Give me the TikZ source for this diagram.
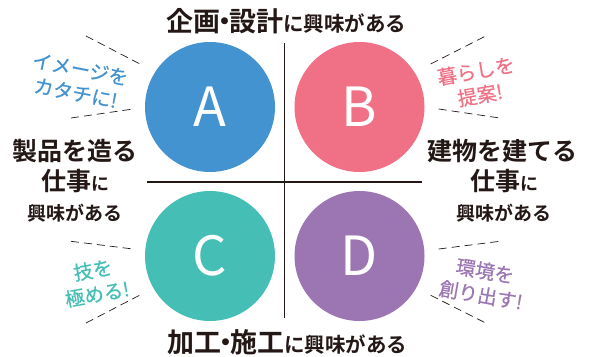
\documentclass[tikz,border=0pt]{standalone}
\usepackage{fontspec}
\setmainfont{Noto Sans CJK JP}[BoldFont={Noto Sans CJK JP Bold}]
\newfontfamily\jpmed{Noto Sans CJK JP}[FakeBold=0.6]
\definecolor{cA}{HTML}{4393D0}
\definecolor{cB}{HTML}{F07185}
\definecolor{cC}{HTML}{45BFB5}
\definecolor{cD}{HTML}{9B76B2}
\definecolor{ink}{HTML}{231815}
\tikzset{
  disc/.style={circle,inner sep=0pt,minimum size=130pt,text=white,font=\fontsize{54}{54}\selectfont},
  bigtxt/.style={inner sep=0pt,text=ink,font=\bfseries\fontsize{25}{25}\selectfont},
  midtxt/.style={inner sep=0pt,text=ink,font=\bfseries\fontsize{19}{19}\selectfont},
  capt/.style={inner sep=0pt,align=center,font=\jpmed\fontsize{19.5}{24.5}\selectfont},
  sep/.style={draw=ink,line width=1.2pt},
  guide/.style={draw=ink,line width=0.7pt,dash pattern=on 8pt off 5pt}
}
\newcommand{\nakaguro}{\kern-9pt・\kern-9pt}
\begin{document}
\begin{tikzpicture}[x=1pt,y=-1pt]
\useasboundingbox (0,0) rectangle (593,356);
% separators
\coordinate (vt) at (284.5,43);
\coordinate (vb) at (284.5,318);
\coordinate (hl) at (147,182);
\coordinate (hr) at (422,182);
\draw[sep] (vt) -- (vb);
\draw[sep] (hl) -- (hr);
% circles
\node[disc,fill=cA] (A) at (210,107) {A};
\node[disc,fill=cB] (B) at (359.5,107) {B};
\node[disc,fill=cC] (C) at (210,256) {C};
\node[disc,fill=cD] (D) at (359.5,256) {D};
% titles
\node[inner sep=0pt,text=ink] (top) at (286,21) {{\bfseries\fontsize{27}{27}\selectfont 企画\nakaguro 設計}{\bfseries\fontsize{20.5}{20.5}\selectfont に興味がある}};
\node[inner sep=0pt,text=ink] (bot) at (287,342) {{\bfseries\fontsize{27}{27}\selectfont 加工\nakaguro 施工}{\bfseries\fontsize{20.5}{20.5}\selectfont に興味がある}};
% left
\node[bigtxt] (l1) at (75,151) {製品を造る};
\node[bigtxt] (l2) at (75,181) {仕事{\fontsize{18}{18}\selectfont に}};
\node[midtxt] (l3) at (75,213) {興味がある};
% right
\node[bigtxt] (r1) at (502.5,151) {建物を建てる};
\node[bigtxt] (r2) at (504,181) {仕事{\fontsize{18}{18}\selectfont に}};
\node[midtxt] (r3) at (503.5,213) {興味がある};
% captions
\node[capt,text=cA,rotate=-11] (ca) at (78,81) {イメージを\\カタチに!};
\node[capt,text=cB,rotate=10] (cb) at (478,83) {暮らしを\\提案!};
\node[capt,text=cC,rotate=10] (cc) at (95,282) {技を\\極める!};
\node[capt,text=cD,rotate=-10] (cd) at (483,283) {環境を\\創り出す!};
% guide lines
\coordinate (a1) at (86,36);   \coordinate (a2) at (140,64);
\coordinate (a3) at (71,118);  \coordinate (a4) at (133,109);
\coordinate (b1) at (430.7,64); \coordinate (b2) at (485.7,36);
\coordinate (b3) at (438.7,109); \coordinate (b4) at (499.7,118);
\coordinate (c1) at (71,241.3); \coordinate (c2) at (133,249);
\coordinate (c3) at (86,323);  \coordinate (c4) at (140,295);
\coordinate (d1) at (438.7,249); \coordinate (d2) at (499.7,241.3);
\coordinate (d3) at (430.7,295.3); \coordinate (d4) at (485.7,323);
\draw[guide] (a1) -- (a2);
\draw[guide] (a3) -- (a4);
\draw[guide] (b1) -- (b2);
\draw[guide] (b3) -- (b4);
\draw[guide] (c1) -- (c2);
\draw[guide] (c3) -- (c4);
\draw[guide] (d1) -- (d2);
\draw[guide] (d3) -- (d4);
\end{tikzpicture}
\end{document}
